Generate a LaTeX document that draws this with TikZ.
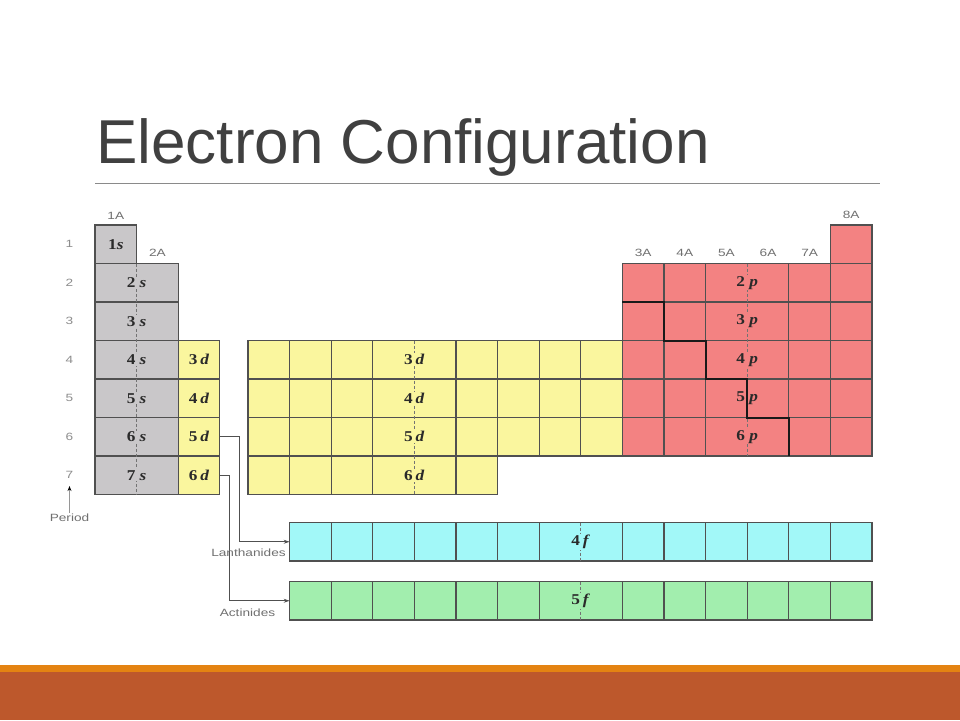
\documentclass[tikz,border=0pt]{standalone}
\usepackage{fontspec}
\setmainfont{Liberation Serif}
\setsansfont{Liberation Sans}
\usetikzlibrary{arrows.meta}

\definecolor{sgray}{HTML}{C9C7C9}
\definecolor{dyellow}{HTML}{FAF69E}
\definecolor{pred}{HTML}{F38282}
\definecolor{fcyan}{HTML}{A2F8F8}
\definecolor{fgreen}{HTML}{A2EEAE}
\definecolor{gridline}{HTML}{505050}
\definecolor{orbtext}{HTML}{2A2A2A}
\definecolor{grouptext}{HTML}{707070}
\definecolor{titlegray}{HTML}{404040}
\definecolor{rulegray}{HTML}{8A8A8A}
\definecolor{orangebar}{HTML}{E48312}
\definecolor{brownbar}{HTML}{BD582C}

\begin{document}
\begin{tikzpicture}[x=1pt,y=-1pt,
    cell/.style={draw=gridline,line width=1.2pt,inner sep=0pt,outer sep=0pt,
      anchor=north west,minimum height=38.5pt},
    orb/.style={font=\fontsize{15}{17}\selectfont\bfseries,text=orbtext,
      inner sep=1pt,xscale=1.15},
    grp/.style={font=\sffamily\fontsize{10.5}{12}\selectfont,text=grouptext,
      inner sep=1pt,xscale=1.3},
    divider/.style={gridline,line width=1.2pt},
    split/.style={gridline!80,line width=1pt,dash pattern=on 3pt off 2pt},
    feed/.style={gridline,line width=0.9pt,-{Stealth[length=6pt,width=4pt]}}]

  \fill[white] (0,0) rectangle (960,720);
  \useasboundingbox (0,0) rectangle (960,720);

  % title and rule
  \node[anchor=base west,inner sep=0pt,text=titlegray,
    font=\sffamily\fontsize{62}{70}\selectfont] (title) at (96,163) {Electron Configuration};
  \draw[rulegray,line width=1pt] (95,183) -- (880,183);

  % s block
  \node[cell,fill=sgray,minimum width=41.6pt] (s1) at (95,225) {};
  \foreach \r in {2,...,7}
    \node[cell,fill=sgray,minimum width=83.2pt] (s\r) at (95,{225+(\r-1)*38.5}) {};
  \draw[split] (136.6,263.5) -- (136.6,494.5);
  \node[orb] (ls1) at (s1) {1\textit{s}};
  \foreach \r in {2,...,7}
    \node[orb,fill=sgray] (ls\r) at (s\r) {\r\ \textit{s}};

  % d block, first column
  \foreach \r in {4,...,7} {
    \pgfmathtruncatemacro\n{\r-1}
    \node[cell,fill=dyellow,minimum width=41.6pt] (dx\r) at (178.2,{225+(\r-1)*38.5})
      {};
    \node[orb] (ldx\r) at (dx\r) {\n\,\textit{d}};
  }

  % d block, other columns
  \foreach \r in {4,5,6}
    \node[cell,fill=dyellow,minimum width=374.4pt] (d\r) at (248,{225+(\r-1)*38.5}) {};
  \node[cell,fill=dyellow,minimum width=249.6pt] (d7) at (248,456) {};
  \foreach \k in {1,2,3,5,6,7,8}
    \draw[divider] (248+\k*41.6,340.5) -- (248+\k*41.6,456);
  \foreach \k in {1,2,3,5}
    \draw[divider] (248+\k*41.6,456) -- (248+\k*41.6,494.5);
  \draw[split] (414.4,340.5) -- (414.4,494.5);
  \foreach \r in {4,...,7} {
    \pgfmathtruncatemacro\n{\r-1}
    \node[orb,fill=dyellow] (ld\r) at (414.4,{225+(\r-0.5)*38.5}) {\n\,\textit{d}};
  }

  % p block
  \node[cell,fill=pred,minimum width=41.6pt] (p1) at (830.4,225) {};
  \foreach \r in {2,...,6}
    \node[cell,fill=pred,minimum width=249.6pt] (p\r) at (622.4,{225+(\r-1)*38.5}) {};
  \foreach \k in {1,2,4,5}
    \draw[divider] (622.4+\k*41.6,263.5) -- (622.4+\k*41.6,456);
  \draw[split] (747.2,263.5) -- (747.2,456);
  \foreach \r in {2,...,6}
    \node[orb,fill=pred] (lp\r) at (747.2,{225+(\r-0.5)*38.5}) {\r\ \textit{p}};
  \draw[black!90,line width=2pt] (622.4,302) -| (664,340.5) -| (705.6,379)
    -| (747.2,417.5) -| (788.8,456);

  % f block
  \node[cell,fill=fcyan,minimum width=582.4pt] (lan) at (289.6,522.5) {};
  \node[cell,fill=fgreen,minimum width=582.4pt] (act) at (289.6,581.5) {};
  \foreach \k in {1,...,6,8,9,10,11,12,13} {
    \draw[divider] (289.6+\k*41.6,522.5) -- (289.6+\k*41.6,561);
    \draw[divider] (289.6+\k*41.6,581.5) -- (289.6+\k*41.6,620);
  }
  \draw[split] (580.8,522.5) -- (580.8,561);
  \draw[split] (580.8,581.5) -- (580.8,620);
  \node[orb,fill=fcyan] (llan) at (580.8,541.75) {4\,\textit{f}};
  \node[orb,fill=fgreen] (lact) at (580.8,600.75) {5\,\textit{f}};

  % connectors to the f rows
  \draw[feed] (dx6.east) -- ++(20,0) |- (lan.west);
  \draw[feed] (dx7.east) -- ++(10,0) |- (act.west);
  \node[grp] (nlan) at (248.5,552.5) {Lanthanides};
  \node[grp] (nact) at (247.5,612.5) {Actinides};

  % group and period labels
  \node[grp] (g1) at (115.8,216) {1A};
  \node[grp] (g2) at (157.4,253) {2A};
  \foreach \k/\g in {0/3A,1/4A,2/5A,3/6A,4/7A}
    \node[grp] (g\g) at (643.2+\k*41.6,253) {\g};
  \node[grp] (g8) at (851.2,215) {8A};
  \foreach \r in {1,...,7}
    \node[grp,text=grouptext!80] (n\r) at (69.5,{225+(\r-0.5)*38.5}) {\r};
  \node[grp] (per) at (69.5,518) {Period};
  \draw[gridline!60,line width=0.9pt,-{Stealth[length=5pt,width=4pt,black]},
    shorten >=6pt] (per) -- (n7);

  % bottom bars
  \fill[orangebar] (0,665) rectangle (960,672);
  \fill[brownbar] (0,672) rectangle (960,720);
\end{tikzpicture}
\end{document}
